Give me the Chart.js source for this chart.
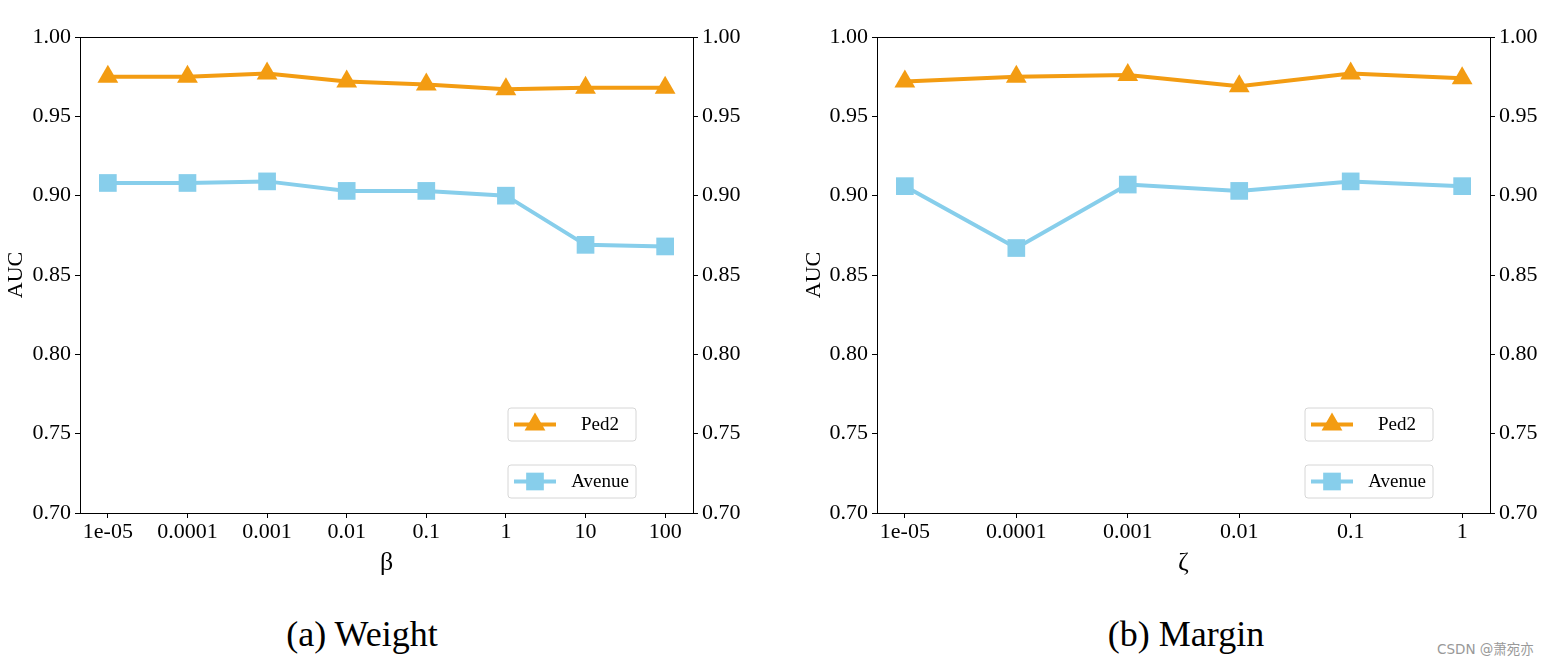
<!DOCTYPE html>
<html>
<head>
<meta charset="utf-8">
<script src="https://cdn.jsdelivr.net/npm/chart.js@4/dist/chart.umd.min.js"></script>
<style>
  body { margin: 0; background: #fff; width: 1552px; height: 664px; position: relative; overflow: hidden; }
  canvas { position: absolute; top: 0; }
  .cap { position: absolute; top: 614px; font-family: 'Liberation Serif', serif; font-size: 36px; line-height: 40px; color: #000; transform: translateX(-50%); white-space: nowrap; }
  .mark { position: absolute; left: 1437px; top: 638px; font-family: 'DejaVu Sans', 'Noto Sans CJK SC', sans-serif; font-size: 13.5px; color: #999; white-space: nowrap; }
</style>
</head>
<body>
<canvas id="left" width="776" height="580" style="left:0"></canvas>
<canvas id="right" width="776" height="580" style="left:776px"></canvas>
<div class="cap" style="left:362px">(a) Weight</div>
<div class="cap" style="left:1186px">(b) Margin</div>
<div class="mark">CSDN @萧宛亦</div>
<script>
// data
const betaLabels = ['1e-05', '0.0001', '0.001', '0.01', '0.1', '1', '10', '100'];
const betaPed2 = [0.975, 0.975, 0.977, 0.972, 0.970, 0.967, 0.968, 0.968];
const betaAvenue = [0.908, 0.908, 0.909, 0.903, 0.903, 0.900, 0.869, 0.868];

const zetaLabels = ['1e-05', '0.0001', '0.001', '0.01', '0.1', '1'];
const zetaPed2 = [0.972, 0.975, 0.976, 0.969, 0.977, 0.974];
const zetaAvenue = [0.906, 0.867, 0.907, 0.903, 0.909, 0.906];

const orange = '#F39C12';
const blue = '#87CEEB';
Chart.defaults.font.family = 'Liberation Serif';
Chart.defaults.color = '#000';

// frame + legend boxes (matplotlib look)
const framePlugin = {
  id: 'frame',
  afterDatasetsDraw(chart) {
    const a = chart.chartArea, c = chart.ctx;
    c.save();
    c.strokeStyle = '#000';
    c.lineWidth = 1;
    c.strokeRect(a.left + 0.5, a.top + 0.5, a.right - a.left, a.bottom - a.top);
    // legend boxes
    const tops = [a.bottom - 105, a.bottom - 48];
    chart.data.datasets.forEach((ds, i) => {
      const bx = a.right - 185, by = tops[i], bw = 128, bh = 33;
      c.beginPath();
      c.roundRect(bx, by, bw, bh, 3);
      c.fillStyle = 'rgba(255,255,255,0.8)';
      c.fill();
      c.strokeStyle = '#d6d6d6';
      c.stroke();
      const cy = by + bh / 2;
      c.strokeStyle = ds.borderColor;
      c.lineWidth = 4;
      c.beginPath();
      c.moveTo(bx + 6, cy);
      c.lineTo(bx + 48, cy);
      c.stroke();
      c.fillStyle = ds.borderColor;
      Chart.helpers.drawPoint(c, {pointStyle: ds.pointStyle, radius: ds.pointRadius, borderWidth: 0}, bx + 27, cy);
      c.fillStyle = '#000';
      c.font = '19px "Liberation Serif"';
      c.textAlign = 'center';
      c.textBaseline = 'middle';
      c.fillText(ds.label, bx + 92, cy + 1);
      c.lineWidth = 1;
    });
    c.restore();
  }
};

function makeChart(id, labels, ped2, avenue, xTitle, leftW, rightW) {
  const pad = (labels.length - 1) * 0.05;
  const yTicks = {
    stepSize: 0.05,
    font: { size: 22 },
    padding: 4,
    callback: (v) => v.toFixed(2)
  };
  const yGrid = { drawOnChartArea: false, tickLength: 5, color: '#000' };
  return new Chart(document.getElementById(id), {
    type: 'line',
    data: {
      datasets: [
        {
          label: 'Ped2',
          data: ped2.map((v, i) => ({ x: i, y: v })),
          borderColor: orange, backgroundColor: orange,
          borderWidth: 4, pointStyle: 'triangle', pointRadius: 12, pointBorderWidth: 0,
          tension: 0
        },
        {
          label: 'Avenue',
          data: avenue.map((v, i) => ({ x: i, y: v })),
          borderColor: blue, backgroundColor: blue,
          borderWidth: 4, pointStyle: 'rect', pointRadius: 12.5, pointBorderWidth: 0,
          tension: 0
        }
      ]
    },
    options: {
      responsive: false,
      animation: false,
      layout: { padding: { top: 37, left: 0, right: 0, bottom: 0 } },
      plugins: { legend: { display: false }, tooltip: { enabled: false } },
      scales: {
        x: {
          type: 'linear',
          min: -pad, max: labels.length - 1 + pad,
          afterBuildTicks: (s) => { s.ticks = labels.map((_, i) => ({ value: i })); },
          afterFit: (s) => { s.height = 580 - 513; },
          ticks: { font: { size: 22 }, padding: 1, maxRotation: 0, autoSkip: false, callback: (v) => labels[v] },
          grid: { drawOnChartArea: false, tickLength: 5, color: '#000' },
          border: { color: '#000', width: 1 },
          title: { display: true, text: xTitle, font: { size: 26 }, padding: { top: 0, bottom: 1 } }
        },
        y: {
          position: 'left',
          min: 0.70, max: 1.00,
          afterFit: (s) => { s.width = leftW; },
          ticks: yTicks,
          grid: yGrid,
          border: { color: '#000', width: 1 },
          title: { display: true, text: 'AUC', font: { size: 22 }, padding: { top: leftW > 90 ? 25 : 3, bottom: 0 } }
        },
        y2: {
          position: 'right',
          min: 0.70, max: 1.00,
          afterFit: (s) => { s.width = rightW; },
          ticks: yTicks,
          grid: yGrid,
          border: { color: '#000', width: 1 }
        }
      }
    },
    plugins: [framePlugin]
  });
}

makeChart('left', betaLabels, betaPed2, betaAvenue, 'β', 80, 776 - 693);
makeChart('right', zetaLabels, zetaPed2, zetaAvenue, 'ζ', 877 - 776, 776 - 714);
</script>
</body>
</html>
